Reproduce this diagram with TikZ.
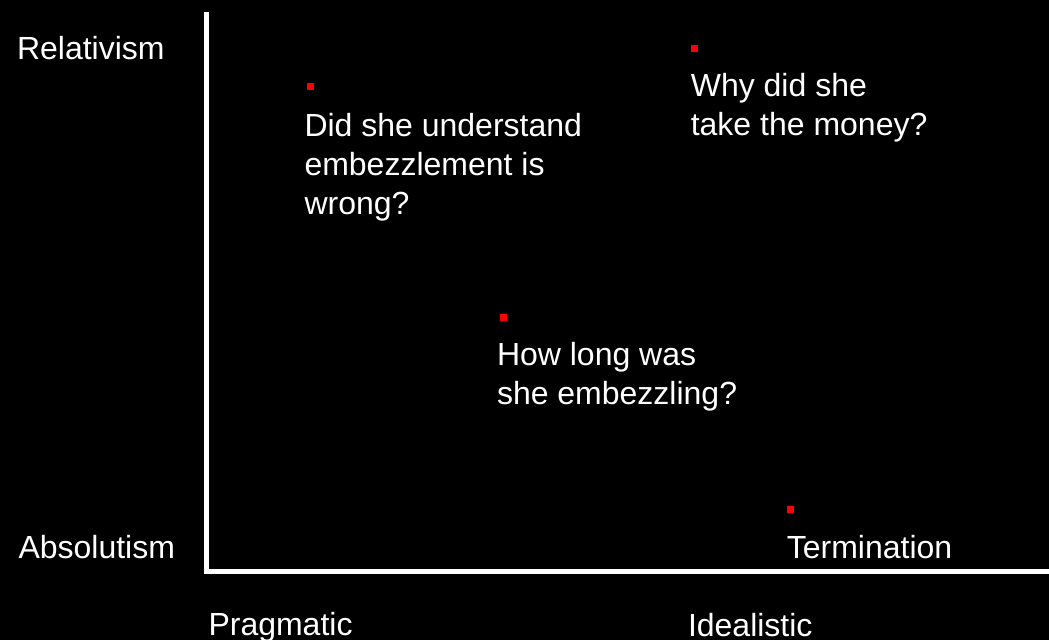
\documentclass[tikz,border=0pt]{standalone}
\usepackage{fontspec}
\setmainfont{Liberation Sans}
\tikzset{
  lbl/.style={text=white, inner sep=0pt, anchor=base west, align=left,
    font=\fontsize{32}{39}\selectfont},
  sqmark/.style={fill=red, inner sep=0pt, minimum size=7pt, anchor=north west},
  axisline/.style={white, line width=4.7pt}
}
\begin{document}
\begin{tikzpicture}[x=1pt, y=-1pt]
                \useasboundingbox (0,0) rectangle (1049,640);
                \fill[black] (0,0) rectangle (1049,640);

                % axes
                \coordinate (ytop) at (206.8,12);
                \coordinate (corner) at (206.8,571.7);
                \coordinate (xend) at (1049,571.7);
                \draw[axisline] (ytop) -- ([yshift=-2.35pt]corner);
                \draw[axisline] ([xshift=-2.35pt]corner) -- (xend);

                \node[lbl] (relat) at (16.8,59.3) {Relativism};
                \node[lbl] (absol) at (18.3,558) {Absolutism};
                \node[lbl] (pragm) at (208.3,635.6) {Pragmatic};
                \node[lbl] (ideal) at (687.8,636) {Idealistic};

                % base anchor of a multi-line node = last line
                \node[sqmark] (m1) at (307,83) {};
                \node[lbl] (q1) at (304.3,214.7) {Did she understand\\embezzlement is\\wrong?};
                \node[sqmark] (m2) at (691,44.7) {};
                \node[lbl] (q2) at (690.6,135) {Why did she\\take the money?};
                \node[sqmark] (m3) at (499.3,314) {};
                \node[lbl] (q3) at (496.8,404.7) {How long was\\she embezzling?};
                \node[sqmark] (m4) at (787,506) {};
                \node[lbl] (q4) at (786.6,558.3) {Termination};
\end{tikzpicture}
\end{document}
